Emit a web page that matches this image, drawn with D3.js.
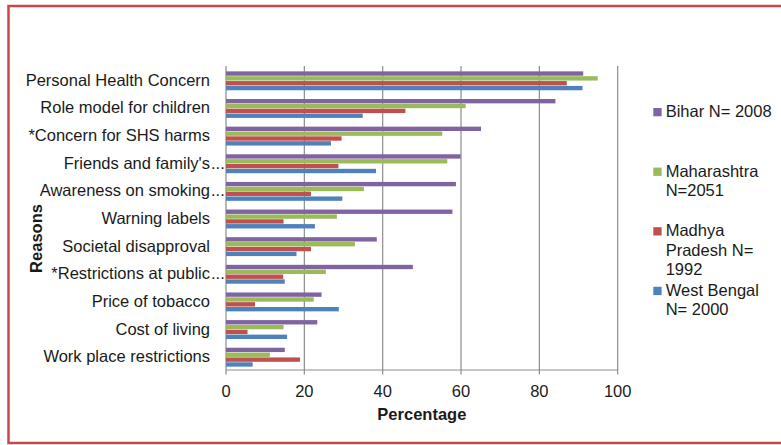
<!DOCTYPE html>
<html>
<head>
<meta charset="utf-8">
<script src="https://cdn.jsdelivr.net/npm/d3@7"></script>
<style>
  html, body { margin: 0; padding: 0; background: #fff; }
  svg { display: block; }
  text { font-family: "Liberation Sans", Arial, sans-serif; fill: #1a1a1a; }
</style>
</head>
<body>
<svg id="chart" width="781" height="445"></svg>
<script>
const categories = [
  "Personal Health Concern",
  "Role model for children",
  "*Concern for SHS harms",
  "Friends and family's...",
  "Awareness on smoking...",
  "Warning labels",
  "Societal disapproval",
  "*Restrictions at public...",
  "Price of tobacco",
  "Cost of living",
  "Work place restrictions"
];
const seriesNames = ["Bihar N= 2008", "Maharashtra N=2051", "Madhya Pradesh N= 1992", "West Bengal N= 2000"];
const legendLines = [
  ["Bihar N= 2008"],
  ["Maharashtra", "N=2051"],
  ["Madhya", "Pradesh N=", "1992"],
  ["West Bengal", "N= 2000"]
];
const bihar       = [91.2, 84.1, 65.1, 59.9, 58.7, 57.8, 38.5, 47.7, 24.4, 23.3, 15.0];
const maharashtra = [94.9, 61.2, 55.2, 56.5, 35.2, 28.3, 32.9, 25.5, 22.4, 14.7, 11.2];
const madhya      = [87.0, 45.8, 29.5, 28.7, 21.7, 14.7, 21.7, 14.6, 7.4, 5.5, 18.9];
const westBengal  = [91.0, 34.9, 26.8, 38.3, 29.7, 22.7, 18.0, 15.0, 28.8, 15.6, 6.8];
const xTicks = [0, 20, 40, 60, 80, 100];
const seriesColors = ["#8064A2", "#9BBB59", "#C0504D", "#4F81BD"];

const seriesValues = [bihar, maharashtra, madhya, westBengal];

const svg = d3.select("#chart");

// outer red frame
svg.append("rect")
  .attr("x", 8.5).attr("y", 6)
  .attr("width", 800).attr("height", 437)
  .attr("fill", "none")
  .attr("stroke", "#C9474A")
  .attr("stroke-width", 2.5);

const plotTop = 66, plotBottom = 370;
const x = d3.scaleLinear().domain([0, 100]).range([226, 617.7]);
const y0 = d3.scaleBand().domain(categories).range([plotTop + 1, plotBottom + 1]).padding(0);
const y1 = d3.scaleBand().domain(d3.range(seriesNames.length))
  .range([0, y0.bandwidth()]).paddingOuter(0.9).paddingInner(0.1);

// gridlines (extend below axis as tick marks)
svg.append("g").selectAll("line")
  .data(xTicks)
  .join("line")
  .attr("x1", d => x(d)).attr("x2", d => x(d))
  .attr("y1", plotTop).attr("y2", plotBottom + 4.5)
  .attr("stroke", "#8c8c8c").attr("stroke-width", 1.2);

// bars
const rows = categories.map((c, i) => ({ c, vals: seriesValues.map(s => s[i]) }));
const groups = svg.append("g").selectAll("g")
  .data(rows).join("g")
  .attr("transform", d => `translate(0,${y0(d.c)})`);
groups.selectAll("rect")
  .data(d => d.vals.map((v, k) => ({ v, k })))
  .join("rect")
  .attr("x", x(0))
  .attr("y", d => y1(d.k))
  .attr("width", d => x(d.v) - x(0))
  .attr("height", y1.bandwidth())
  .attr("fill", d => seriesColors[d.k]);

// x axis line
svg.append("line")
  .attr("x1", x(0)).attr("x2", x(100))
  .attr("y1", plotBottom).attr("y2", plotBottom)
  .attr("stroke", "#8c8c8c").attr("stroke-width", 1.2);

// x tick labels
svg.append("g").selectAll("text")
  .data(xTicks).join("text")
  .attr("x", d => x(d)).attr("y", 397)
  .attr("text-anchor", "middle")
  .attr("font-size", "16.5px")
  .text(d => d);

// category labels
const labelG = svg.append("g");
categories.forEach(c => {
  const yc = y0(c) + y0.bandwidth() / 2 + 5;
  const hasEll = c.endsWith("...");
  const main = hasEll ? c.slice(0, -3) : c;
  labelG.append("text")
    .attr("x", 210).attr("y", yc)
    .attr("text-anchor", "end")
    .attr("font-size", "16.5px")
    .text(main);
  if (hasEll) {
    labelG.append("text")
      .attr("x", 211).attr("y", yc)
      .attr("text-anchor", "start")
      .attr("font-size", "16.5px")
      .text("...");
  }
});

// axis titles
svg.append("text")
  .attr("x", (x(0) + x(100)) / 2).attr("y", 420)
  .attr("text-anchor", "middle")
  .attr("font-size", "16.5px").attr("font-weight", "bold")
  .text("Percentage");
svg.append("text")
  .attr("transform", "translate(41.5,238.5) rotate(-90)")
  .attr("text-anchor", "middle")
  .attr("font-size", "16.5px").attr("font-weight", "bold")
  .text("Reasons");

// legend
const legend = svg.append("g");
legendLines.forEach((lines, i) => {
  const by = 117 + i * 59.6;
  legend.append("rect")
    .attr("x", 653.3).attr("y", by - 9)
    .attr("width", 8.3).attr("height", 8.3)
    .attr("fill", seriesColors[i]);
  const t = legend.append("text")
    .attr("x", 665.7).attr("y", by)
    .attr("font-size", "16.5px");
  lines.forEach((ln, j) => {
    t.append("tspan").attr("x", 665.7).attr("dy", j === 0 ? 0 : 19.4).text(ln);
  });
});
</script>
</body>
</html>
